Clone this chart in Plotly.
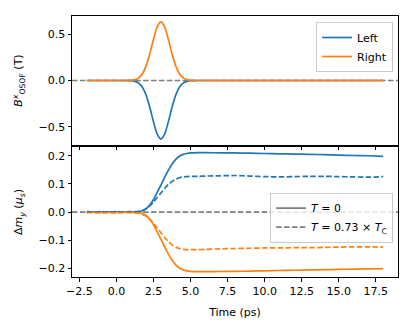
import plotly.graph_objects as go
from plotly.subplots import make_subplots

# ---------------- data ----------------
t_pulse = [-2, -1, 0, 0.5, 0.75, 1.0, 1.25, 1.5, 1.75, 2.0, 2.25, 2.5, 2.75, 3.0,
           3.25, 3.5, 3.75, 4.0, 4.25, 4.5, 4.75, 5.0, 5.25, 5.5, 6, 8, 10, 12, 14, 16, 18]
B_right = [0, 0, 0, 0, 0.0005, 0.002, 0.009, 0.028, 0.072, 0.157, 0.288, 0.445, 0.578, 0.63,
           0.578, 0.445, 0.288, 0.157, 0.072, 0.028, 0.009, 0.002, 0.0005, 0, 0, 0, 0, 0, 0, 0, 0]
B_left = [0, 0, 0, 0, -0.0005, -0.002, -0.009, -0.028, -0.072, -0.157, -0.288, -0.445, -0.578, -0.63,
          -0.578, -0.445, -0.288, -0.157, -0.072, -0.028, -0.009, -0.002, -0.0005, 0, 0, 0, 0, 0, 0, 0, 0]

t_m = [-2, -1.5, -1, -0.5, 0, 0.5, 1.0, 1.25, 1.5, 1.75, 2.0, 2.25, 2.5, 2.75, 3.0, 3.25,
       3.5, 3.75, 4.0, 4.25, 4.5, 4.75, 5.0, 5.5, 6, 7, 8, 9, 10, 11, 12, 13, 14, 15, 16, 17, 18]
m_left_T0 = [0, 0, 0, 0, 0, 0, 0.0005, 0.001, 0.002, 0.005, 0.012, 0.025, 0.045, 0.07, 0.096, 0.123,
             0.148, 0.17, 0.187, 0.198, 0.205, 0.208, 0.21, 0.211, 0.211, 0.2105, 0.21, 0.209, 0.208,
             0.207, 0.206, 0.205, 0.204, 0.202, 0.201, 0.2, 0.198]
m_right_T0 = [0, 0, 0, 0, 0, 0, -0.0005, -0.001, -0.002, -0.005, -0.012, -0.025, -0.045, -0.07, -0.096,
              -0.123, -0.148, -0.17, -0.187, -0.198, -0.205, -0.208, -0.21, -0.211, -0.211, -0.2105,
              -0.21, -0.209, -0.208, -0.207, -0.206, -0.205, -0.204, -0.203, -0.202, -0.201, -0.2]
m_left_Tc = [0.002, 0.001, 0.002, 0.001, 0.002, 0.001, 0.002, 0.002, 0.003, 0.006, 0.012, 0.022, 0.036,
             0.052, 0.068, 0.084, 0.098, 0.109, 0.117, 0.122, 0.125, 0.126, 0.127, 0.127, 0.128, 0.129,
             0.13, 0.128, 0.126, 0.125, 0.126, 0.127, 0.127, 0.126, 0.125, 0.124, 0.126]
m_right_Tc = [-0.003, -0.002, -0.003, -0.002, -0.003, -0.002, -0.002, -0.003, -0.004, -0.008, -0.015,
              -0.026, -0.04, -0.056, -0.073, -0.09, -0.104, -0.116, -0.124, -0.129, -0.132, -0.133,
              -0.133, -0.133, -0.132, -0.13, -0.129, -0.128, -0.127, -0.127, -0.126, -0.126, -0.125,
              -0.124, -0.123, -0.123, -0.124]

x_ticks = [-2.5, 0.0, 2.5, 5.0, 7.5, 10.0, 12.5, 15.0, 17.5]
top_y_ticks = [-0.5, 0.0, 0.5]
bot_y_ticks = [-0.2, -0.1, 0.0, 0.1, 0.2]

BLUE = "#1f77b4"
ORANGE = "#ff7f0e"
GRAY = "#808080"
DASH = "5.5px,2.4px"
LW = 1.7
FS = 11

fig = make_subplots(rows=2, cols=1, shared_xaxes=False, vertical_spacing=0)

# top panel
fig.add_trace(go.Scatter(x=t_pulse, y=B_left, mode="lines", name="Left",
                         line=dict(color=BLUE, width=LW, shape="spline", smoothing=0.6),
                         legend="legend"), row=1, col=1)
fig.add_trace(go.Scatter(x=t_pulse, y=B_right, mode="lines", name="Right",
                         line=dict(color=ORANGE, width=LW, shape="spline", smoothing=0.6),
                         legend="legend"), row=1, col=1)

# bottom panel
fig.add_trace(go.Scatter(x=t_m, y=m_left_T0, mode="lines", showlegend=False,
                         line=dict(color=BLUE, width=LW, shape="spline", smoothing=0.6)), row=2, col=1)
fig.add_trace(go.Scatter(x=t_m, y=m_right_T0, mode="lines", showlegend=False,
                         line=dict(color=ORANGE, width=LW, shape="spline", smoothing=0.6)), row=2, col=1)
fig.add_trace(go.Scatter(x=t_m, y=m_left_Tc, mode="lines", showlegend=False,
                         line=dict(color=BLUE, width=LW, dash=DASH, shape="spline", smoothing=0.6)), row=2, col=1)
fig.add_trace(go.Scatter(x=t_m, y=m_right_Tc, mode="lines", showlegend=False,
                         line=dict(color=ORANGE, width=LW, dash=DASH, shape="spline", smoothing=0.6)), row=2, col=1)

# legend-only entries for the bottom legend
fig.add_trace(go.Scatter(x=[None], y=[None], mode="lines", name="<i>T</i> = 0",
                         line=dict(color=GRAY, width=LW), legend="legend2"), row=2, col=1)
fig.add_trace(go.Scatter(x=[None], y=[None], mode="lines", name="<i>T</i> = 0.73 × <i>T</i><sub>C</sub>",
                         line=dict(color=GRAY, width=LW, dash=DASH), legend="legend2"), row=2, col=1)

# zero reference lines (drawn below data)
for yref, xref in (("y", "x domain"), ("y2", "x2 domain")):
    fig.add_shape(type="line", xref=xref, yref=yref, x0=0, x1=1, y0=0, y1=0,
                  line=dict(color=GRAY, width=LW, dash=DASH), layer="below")

axis_common = dict(showline=True, mirror=True, linecolor="black", linewidth=1,
                   ticks="outside", ticklen=3.5, tickwidth=1, tickcolor="black",
                   showgrid=False, zeroline=False, automargin=False,
                   tickfont=dict(size=FS, color="black"))

fig.update_xaxes(range=[-3, 19], tickvals=x_ticks, tickformat=".1f", **axis_common)
fig.update_xaxes(showticklabels=False, row=1, col=1)
fig.update_xaxes(title=dict(text="Time (ps)", font=dict(size=FS, color="black"), standoff=11), row=2, col=1)

fig.update_yaxes(**axis_common)
fig.update_yaxes(range=[-0.694, 0.694], tickvals=top_y_ticks, tickformat=".1f",
                 title=dict(text="<i>B</i><sup><i>x</i></sup><sub>OSOF</sub> (T)",
                            font=dict(size=FS, color="black"), standoff=13),
                 domain=[0.5057, 1.0], row=1, col=1)
fig.update_yaxes(range=[-0.23, 0.231], tickvals=bot_y_ticks, tickformat=".1f",
                 title=dict(text="Δ<i>m</i><sub><i>y</i></sub> (<i>μ</i><sub><i>s</i></sub>)",
                            font=dict(size=FS, color="black"), standoff=13),
                 domain=[0.0, 0.498], row=2, col=1)

fig.update_layout(
    width=407, height=320,
    margin=dict(l=64, r=17, t=8, b=51, autoexpand=False),
    paper_bgcolor="white", plot_bgcolor="white",
    font=dict(family="DejaVu Sans", size=FS, color="black"),
    legend=dict(x=0.985, y=0.977, xanchor="right", yanchor="top",
                bgcolor="rgba(255,255,255,0.8)", bordercolor="#cccccc", borderwidth=1,
                font=dict(size=FS), tracegroupgap=0),
    legend2=dict(x=0.985, y=0.323, xanchor="right", yanchor="top",
                 bgcolor="rgba(255,255,255,0.8)", bordercolor="#cccccc", borderwidth=1,
                 font=dict(size=FS), tracegroupgap=0),
)

fig.write_html("out.html")
